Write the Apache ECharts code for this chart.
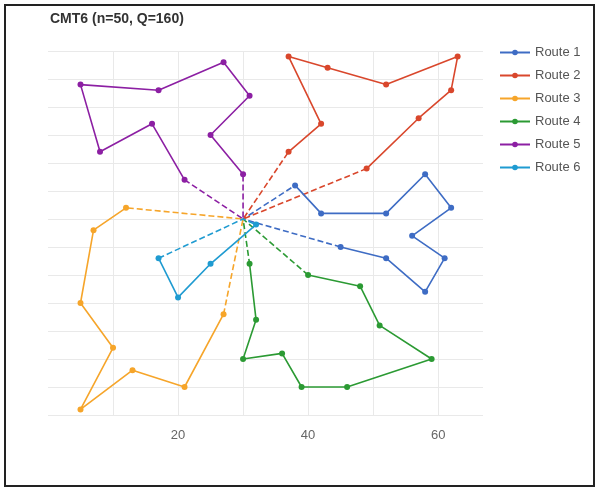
<!DOCTYPE html>
<html>
<head>
<meta charset="utf-8">
<script src="https://cdn.jsdelivr.net/npm/echarts@6/dist/echarts.min.js"></script>
<style>
  html, body { margin: 0; padding: 0; background: #fff; }
  #chart { width: 598px; height: 488px; }
</style>
</head>
<body>
<div id="chart"></div>
<script>
const depot = [30, 40];

const route1 = [[38, 46], [42, 41], [52, 41], [58, 48], [62, 42], [56, 37], [61, 33], [58, 27], [52, 33], [45, 35]];
const route2 = [[37, 52], [42, 57], [37, 69], [43, 67], [52, 64], [63, 69], [62, 63], [57, 58], [49, 49]];
const route3 = [[12, 42], [7, 38], [5, 25], [10, 17], [5, 6], [13, 13], [21, 10], [27, 23]];
const route4 = [[31, 32], [32, 22], [30, 15], [36, 16], [39, 10], [46, 10], [59, 15], [51, 21], [48, 28], [40, 30]];
const route5 = [[30, 48], [25, 55], [31, 62], [27, 68], [17, 63], [5, 64], [8, 52], [16, 57], [21, 47]];
const route6 = [[32, 39], [25, 32], [20, 26], [17, 33]];

const routes = [route1, route2, route3, route4, route5, route6];
const routeNames = ["Route 1", "Route 2", "Route 3", "Route 4", "Route 5", "Route 6"];
const colors = ["#3e6cc4", "#d9472c", "#f6a52a", "#2b9a33", "#8c1fa3", "#1f9bd1"];
const xLabels = [20, 40, 60];

const chart = echarts.init(document.getElementById("chart"));

const solidSeries = routes.map((pts, i) => ({
  name: routeNames[i],
  type: "line",
  data: pts,
  z: 3,
  symbol: "circle",
  symbolSize: 6,
  color: colors[i],
  lineStyle: { width: 1.6, color: colors[i] },
  itemStyle: { color: colors[i] },
  clip: false
}));

// first and last leg from/to depot drawn dashed
const dashedSeries = routes.map((pts, i) => ({
  name: routeNames[i],
  type: "line",
  data: [pts[pts.length - 1], depot, pts[0]],
  z: 2,
  showSymbol: false,
  color: colors[i],
  lineStyle: { width: 1.6, type: [6, 3], color: colors[i] },
  clip: false
}));

const option = {
  animation: false,
  backgroundColor: "#fff",
  textStyle: { fontFamily: "Liberation Sans, Arial, sans-serif" },
  title: {
    text: "CMT6 (n=50, Q=160)",
    left: 45,
    top: 7,
    textStyle: { fontSize: 14, fontWeight: "bold", color: "#333" }
  },
  legend: {
    data: routeNames,
    orient: "vertical",
    left: 499,
    top: 46,
    padding: 0,
    itemWidth: 30,
    itemHeight: 7,
    itemGap: 10,
    textStyle: { fontSize: 13, color: "#555" }
  },
  grid: { left: 48, right: 115, top: 51, bottom: 73 },
  xAxis: {
    type: "value",
    min: 0,
    max: 66.9,
    interval: 10,
    axisLine: { show: false },
    axisTick: { show: false },
    axisLabel: {
      color: "#666",
      fontSize: 13,
      margin: 14,
      showMinLabel: false,
      showMaxLabel: false,
      formatter: (v) => (xLabels.includes(v) ? String(v) : "")
    },
    splitLine: { show: true, showMinLine: false, showMaxLine: false, lineStyle: { color: "#e9e9e9", width: 1 } }
  },
  yAxis: {
    type: "value",
    min: 5,
    max: 70,
    interval: 5,
    axisLine: { show: false },
    axisTick: { show: false },
    axisLabel: { show: false },
    splitLine: { show: true, lineStyle: { color: "#e9e9e9", width: 1 } }
  },
  graphic: [{
    type: "rect",
    shape: { x: 5, y: 5, width: 589, height: 481 },
    style: { fill: "none", stroke: "#222", lineWidth: 2 },
    silent: true
  }],
  series: solidSeries.concat(dashedSeries)
};

chart.setOption(option);
</script>
</body>
</html>
